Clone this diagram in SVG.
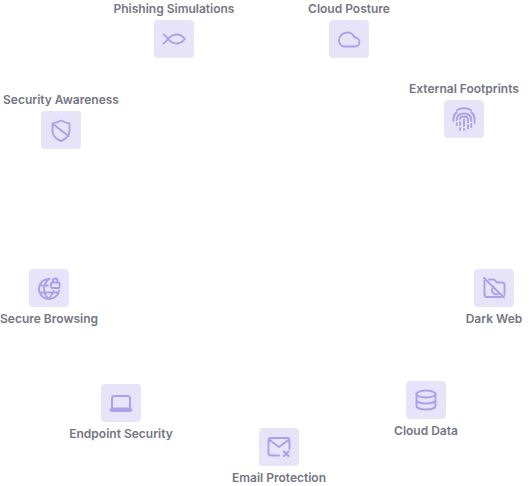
<svg xmlns="http://www.w3.org/2000/svg" width="528" height="486" viewBox="0 0 528 486">
<style>
.b{fill:#e7e4f9}
.i{fill:none;stroke:#ae9fe9;stroke-width:1.9;stroke-linecap:round;stroke-linejoin:round}
.t{font-family:Inter,"Liberation Sans",sans-serif;font-size:12px;font-weight:600;fill:#757582;text-anchor:middle}
</style>
<rect width="528" height="486" fill="#ffffff"/>
<g id="connectors"/>
<g id="phishing-simulations">
<text class="t" x="174" y="13">Phishing Simulations</text>
<rect class="b" x="154" y="20" width="40" height="38" rx="4"/>
<path class="i" d="M163.500 34.500C165.500 35.500 167 37.500 168 39C170.500 36 174 34.500 177 34.500C180 34.500 183 36.500 184.800 39C183 41.500 180 43.500 177 43.500C174 43.500 170.500 42 168 39C167 40.500 165.500 42.500 163.500 43.500"/>
</g>
<g id="cloud-posture">
<text class="t" x="349" y="13">Cloud Posture</text>
<rect class="b" x="329" y="20" width="40" height="38" rx="4"/>
<path class="i" d="M344.500 46.500H355C357.500 46.500 359.500 44.500 359.500 42C359.500 39.500 357.500 37.500 355 37.500H354.500C353.500 35 351 32.500 347.500 32.500C342.500 32.500 339 36 339 40.500V41C339 44 341.500 46.500 344.500 46.500Z"/>
</g>
<g id="external-footprints">
<text class="t" x="464" y="93">External Footprints</text>
<rect class="b" x="444" y="100" width="40" height="38" rx="4"/>
<path class="i" d="M457 110C461 107.700 467 107.700 471 110M453.500 121V118.500C453.500 115.500 455 113.500 457 112M474.500 123V118.500C474.500 115.500 473 113.500 471 112M456.800 120C456.800 115.500 460 113.500 464 113.500C468 113.500 471.200 115.500 471.200 120V121M456.800 123V125M471.200 124V127M460 119C460 117.500 461.800 116.500 464 116.500C466.200 116.500 468 117.500 468 119V122M460 122V125M460 128V130M464 119.500V126M464 129V130M468 125V128.500"/>
</g>
<g id="security-awareness">
<text class="t" x="61" y="104">Security Awareness</text>
<rect class="b" x="41" y="111" width="40" height="38" rx="4"/>
<path class="i" d="M61 120.500C57.500 122.500 55 123 52.500 123.500V131C52.500 136 56 139 61 141C66 139 69.500 136 69.500 131V123.500C67 123 64.500 122.500 61 120.500ZM53.500 124.500L68.500 136"/>
</g>
<g id="secure-browsing">
<rect class="b" x="29" y="269" width="40" height="38" rx="4"/>
<path class="i" d="M49.500 279C43.500 278.500 39 283.500 39 289C39 294.500 43.500 299 49 299C54.500 299 59 294.500 59 290.500M48.500 279.500C42.500 285 42.500 293 48.500 299C51.500 296 53 293 53.500 291M39.500 285.500H48M39.500 292.500H58"/>
<rect class="i" x="51" y="282.500" width="8.500" height="5.500" rx="1"/>
<path class="i" d="M53 282.500V281C53 279.500 54 278.500 55.300 278.500C56.600 278.500 57.500 279.500 57.500 281V282.500"/>
<text class="t" x="49" y="323">Secure Browsing</text>
</g>
<g id="dark-web">
<rect class="b" x="474" y="269" width="40" height="38" rx="4"/>
<path class="i" d="M484.500 281V294.500C484.500 296 485.500 297 487 297H501M489 279.500H494L497 282.500H502C503.500 282.500 504.500 283.500 504.500 285V295M484 278L504 297.500"/>
<path class="i" d="M493.500 287C491.800 289 491.800 291.500 493 293C494.500 294.500 497 294.800 499 293.500"/>
<text class="t" x="494" y="323">Dark Web</text>
</g>
<g id="cloud-data">
<rect class="b" x="406" y="381" width="40" height="38" rx="4"/>
<ellipse class="i" cx="426" cy="394" rx="9.500" ry="3.500"/>
<path class="i" d="M416.500 394V406C416.500 408 420.500 409.500 426 409.500C431.500 409.500 435.500 408 435.500 406V394M416.500 400C416.500 402 420.500 403.500 426 403.500C431.500 403.500 435.500 402 435.500 400"/>
<text class="t" x="426" y="435">Cloud Data</text>
</g>
<g id="email-protection">
<rect class="b" x="259" y="428" width="40" height="38" rx="4"/>
<path class="i" d="M279 455.500H271C269.500 455.500 268.500 454.500 268.500 453V440.500C268.500 439 269.500 438 271 438H287C288.500 438 289.500 439 289.500 440.500V449M269 439.500L279 447L289 439.500"/>
<path class="i" style="stroke-width:2.200" d="M284 451.500L288.500 456M288.500 451.500L284 456"/>
<text class="t" x="279" y="482">Email Protection</text>
</g>
<g id="endpoint-security">
<rect class="b" x="101" y="384" width="40" height="38" rx="4"/>
<path class="i" d="M114.500 396H127.500C129 396 130 397 130 398.500V408.500H112V398.500C112 397 113 396 114.500 396ZM110.500 409.500H131.500C131.500 410.500 131 411 130 411H112C111 411 110.500 410.500 110.500 409.500Z"/>
<text class="t" x="121" y="438">Endpoint Security</text>
</g>
</svg>
